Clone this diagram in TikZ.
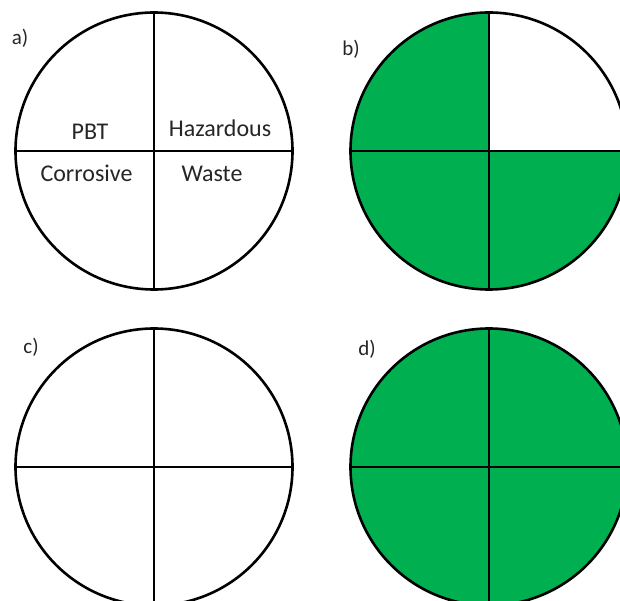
\documentclass[tikz,border=0pt]{standalone}
\usepackage{fontspec}
\setmainfont{Carlito}
\definecolor{quadgreen}{HTML}{00B050}
\definecolor{labelgray}{HTML}{262626}
\begin{document}
\begin{tikzpicture}[x=1pt,y=-1pt,
  ring/.style={line width=2.6pt},
  cross/.style={line width=1.8pt},
  word/.style={font=\fontsize{24}{28}\selectfont, text=labelgray, anchor=base, inner sep=0pt},
  tag/.style={font=\fontsize{21}{25}\selectfont, text=labelgray, inner sep=0pt}]
\useasboundingbox (0,0) rectangle (620,601);
\clip (0,0) rectangle (620,601);
\def\R{138.5pt}

% centres of the four discs
\coordinate (ca) at (154,151);
\coordinate (cb) at (489,151);
\coordinate (cc) at (154,467);
\coordinate (cd) at (489,467);

% b) three green quadrants, top right left white
\fill[quadgreen] (cb) circle (\R);
\begin{scope}
  \clip (cb) circle (\R);
  \fill[white] (cb) rectangle ++(160,-160);
\end{scope}

% d) fully green
\fill[quadgreen] (cd) circle (\R);

% outlines and cross lines
\foreach \c in {ca,cb,cc,cd}{
  \draw[cross] ([yshift=-\R]\c) -- ([yshift=\R]\c);
  \draw[cross] ([xshift=-\R]\c) -- ([xshift=\R]\c);
  \draw[ring] (\c) circle (\R);
}

% panel tags
\node[tag] (ta) at (20,38) {a)};
\node[tag] (tb) at (351,49) {b)};
\node[tag] (tc) at (31,347) {c)};
\node[tag] (td) at (367,349) {d)};

% quadrant words
\node[word] (pbt) at (90,140) {PBT};
\node[word] (haz) at (220,137) {Hazardous};
\node[word] (cor) at (86.5,182) {Corrosive};
\node[word] (was) at (212,182) {Waste};
\end{tikzpicture}
\end{document}
